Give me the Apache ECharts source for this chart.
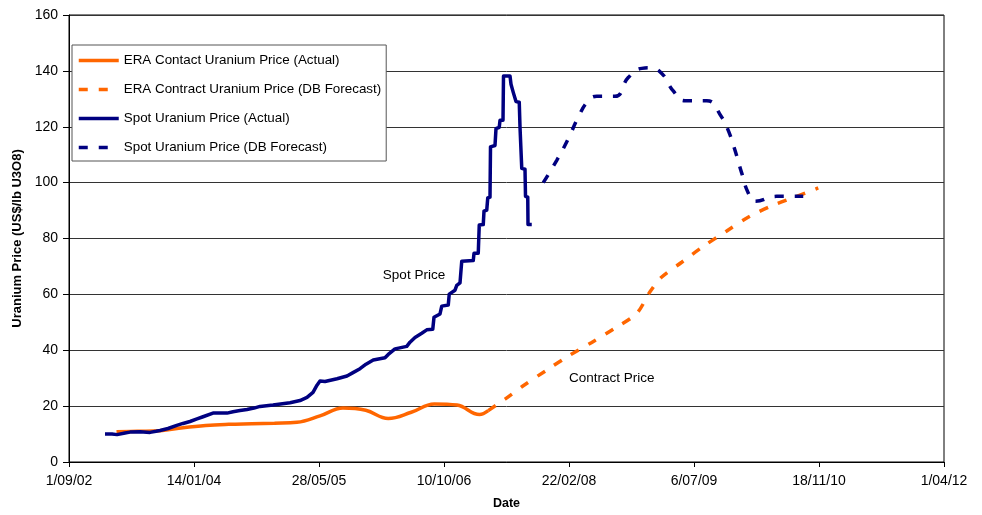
<!DOCTYPE html>
<html>
<head>
<meta charset="utf-8">
<script src="https://cdn.jsdelivr.net/npm/echarts@6/dist/echarts.min.js"></script>
<style>
  html, body { margin: 0; padding: 0; background: #ffffff; }
  #chart { width: 982px; height: 515px; }
</style>
</head>
<body>
<div id="chart"></div>
<script>
// Date axis runs from 1 Sep 2002 in 500-day steps
const axisStartDate = '2002-09-01';
const axisEndDate = '2012-04-01';
const tickLabels = ['1/09/02', '14/01/04', '28/05/05', '10/10/06', '22/02/08', '6/07/09', '18/11/10', '1/04/12'];
const yTicks = [0, 20, 40, 60, 80, 100, 120, 140, 160];

// ERA contract price, actual (US$/lb U3O8)
const contractActualDates = ['2003-03-10', '2003-06-01', '2003-09-01', '2003-12-01', '2004-03-01', '2004-06-01',
  '2004-09-01', '2004-12-01', '2005-03-01', '2005-06-01', '2005-09-01', '2005-12-01', '2006-03-01', '2006-06-01',
  '2006-09-01', '2006-12-01', '2007-03-01', '2007-04-05'];
const contractActualValues = [10.8, 11.0, 11.2, 12.3, 13.1, 13.5, 13.7, 13.9, 14.2, 16.5, 19.3, 18.5, 15.6, 17.8,
  20.8, 20.4, 17.0, 18.4];

// ERA contract price, DB forecast
const contractForecastDates = ['2007-04-05', '2007-06-11', '2007-08-23', '2007-11-25', '2008-02-19', '2008-05-23',
  '2008-08-24', '2008-11-19', '2009-01-11', '2009-02-27', '2009-05-18', '2009-08-06', '2009-11-14', '2010-02-15',
  '2010-05-19', '2010-08-21', '2010-11-15'];
const contractForecastValues = [18.4, 22.5, 27.3, 32.9, 37.9, 42.8, 47.9, 53.2, 60.9, 66.2, 71.5, 76.8, 82.7, 88.0,
  91.9, 95.1, 98.1];

// Spot price, actual
const spotActualDates = ['2003-01-23', '2003-02-20', '2003-03-12', '2003-04-13', '2003-05-03', '2003-06-12',
  '2003-07-22', '2003-08-15', '2003-08-31', '2003-10-02', '2003-11-06', '2003-12-01', '2003-12-29', '2004-01-26',
  '2004-02-19', '2004-03-30', '2004-05-25', '2004-06-18', '2004-07-16', '2004-08-13', '2004-09-10', '2004-10-04',
  '2004-11-25', '2005-02-01', '2005-03-13', '2005-04-10', '2005-05-04', '2005-05-20', '2005-06-01', '2005-06-21',
  '2005-08-08', '2005-09-17', '2005-10-11', '2005-11-08', '2005-12-02', '2005-12-31', '2006-02-16', '2006-03-01',
  '2006-03-28', '2006-05-14', '2006-05-27', '2006-06-16', '2006-07-13', '2006-08-02', '2006-08-26', '2006-08-31',
  '2006-09-24', '2006-10-01', '2006-10-27', '2006-10-31', '2006-11-23', '2006-11-30', '2006-12-13', '2006-12-20',
  '2007-02-04', '2007-02-07', '2007-02-24', '2007-02-28', '2007-03-16', '2007-03-19', '2007-03-30', '2007-04-03',
  '2007-04-12', '2007-04-14', '2007-05-02', '2007-05-06', '2007-05-19', '2007-05-22', '2007-06-03', '2007-06-05',
  '2007-07-01', '2007-07-05', '2007-07-12', '2007-07-14', '2007-07-21', '2007-07-25', '2007-08-07', '2007-08-10',
  '2007-08-14', '2007-08-17', '2007-08-30', '2007-09-01', '2007-09-10', '2007-09-11', '2007-09-26'];
const spotActualValues = [10.0, 10.0, 9.8, 10.4, 10.7, 10.8,
  10.6, 11.0, 11.3, 12.0, 13.1, 13.8, 14.5, 15.4,
  16.2, 17.5, 17.5, 18.0, 18.4, 18.8, 19.3, 19.9,
  20.4, 21.2, 22.0, 23.1, 24.9, 27.5, 29.0, 28.8,
  29.8, 30.8, 32.0, 33.4, 35.0, 36.5, 37.3, 38.5,
  40.5, 41.4, 42.9, 44.6, 46.1, 47.3, 47.5, 51.8,
  53.0, 55.8, 56.2, 60.1, 61.5, 63.2, 64.1, 71.9,
  72.1, 74.7, 74.7, 84.8, 85.0, 89.8, 90.2, 94.5,
  94.8, 112.8, 113.3, 119.3, 119.8, 122.3, 122.3, 138.2,
  138.2, 135.2, 134.6, 132.3, 132.3, 129.0, 128.8, 119.9,
  119.3, 105.1, 104.8, 95.1, 94.8, 85.0, 85.0];

// Spot price, DB forecast
const spotForecastDates = ['2007-11-11', '2008-01-04', '2008-02-19', '2008-03-30', '2008-05-09', '2008-06-12',
  '2008-08-24', '2008-10-16', '2008-12-09', '2009-01-11', '2009-02-27', '2009-04-14', '2009-05-31', '2009-08-26',
  '2009-10-25', '2009-11-20', '2009-12-17', '2010-01-13', '2010-02-08', '2010-03-07', '2010-06-02', '2010-09-16'];
const spotForecastValues = [100.0, 108.0, 115.7, 123.4, 129.3, 130.9,
  130.9, 137.6, 140.9, 141.1, 139.1, 132.8, 129.3, 129.3,
  123.4, 118.7, 111.6, 103.4, 96.3, 93.3, 95.1, 95.1];

// Text annotations placed in data coordinates
const spotNote = { text: 'Spot Price', date: '2006-06-12', value: 67.0 };
const contractNote = { text: 'Contract Price', date: '2008-08-11', value: 30.0 };

const ORANGE = '#ff6600';
const NAVY = '#000080';
const FONT = "'Liberation Sans', Arial, sans-serif";

function parseUTC(s) {
  const p = s.split('-').map(Number);
  return Date.UTC(p[0], p[1] - 1, p[2]);
}
const originMs = parseUTC(axisStartDate);
function dayOf(s) { return Math.round((parseUTC(s) - originMs) / 86400000); }
function pairs(dates, values) { return dates.map((d, i) => [dayOf(d), values[i]]); }

const TICK_STEP = 500;
const chart = echarts.init(document.getElementById('chart'), null, { renderer: 'canvas' });

const option = {
  animation: false,
  backgroundColor: '#ffffff',
  textStyle: { fontFamily: FONT },
  grid: {
    left: 69, right: 38, top: 15, bottom: 48,
    show: true, borderColor: '#000', borderWidth: 1, backgroundColor: 'transparent'
  },
  legend: {
    orient: 'vertical',
    left: 72, top: 45,
    padding: [9, 5, 7, 5],
    itemWidth: 40, itemHeight: 14, itemGap: 16,
    backgroundColor: '#ffffff',
    borderColor: '#555', borderWidth: 1,
    itemStyle: { opacity: 0 },
    lineStyle: { width: 3.5 },
    textStyle: { fontFamily: FONT, fontSize: 13.4, color: '#000' },
    data: [
      'ERA Contact Uranium Price (Actual)',
      'ERA Contract Uranium Price (DB Forecast)',
      'Spot Uranium Price (Actual)',
      'Spot Uranium Price (DB Forecast)'
    ]
  },
  xAxis: {
    type: 'value',
    min: 0,
    max: dayOf(axisEndDate),
    interval: TICK_STEP,
    name: 'Date',
    nameLocation: 'middle',
    nameGap: 35,
    nameTextStyle: { fontFamily: FONT, fontSize: 12.5, fontWeight: 'bold', color: '#000' },
    axisLine: { lineStyle: { color: '#000', width: 1 } },
    axisTick: { show: true, inside: false, length: 5, lineStyle: { color: '#000' } },
    axisLabel: {
      fontFamily: FONT, fontSize: 14, color: '#000', margin: 12,
      formatter: v => tickLabels[Math.round(v / TICK_STEP)] || ''
    },
    splitLine: { show: false }
  },
  yAxis: {
    type: 'value',
    min: yTicks[0],
    max: yTicks[yTicks.length - 1],
    interval: yTicks[1] - yTicks[0],
    name: 'Uranium Price (US$/lb U3O8)',
    nameLocation: 'middle',
    nameGap: 42,
    nameRotate: 90,
    nameTextStyle: { fontFamily: FONT, fontSize: 13, fontWeight: 'bold', color: '#000' },
    axisLine: { show: true, lineStyle: { color: '#000', width: 1 } },
    axisTick: { show: true, inside: false, length: 6, lineStyle: { color: '#000' } },
    axisLabel: { fontFamily: FONT, fontSize: 14, color: '#000', margin: 11 },
    splitLine: { show: true, lineStyle: { color: '#333', width: 1 } }
  },
  series: [
    {
      name: 'ERA Contact Uranium Price (Actual)',
      type: 'line',
      data: pairs(contractActualDates, contractActualValues),
      smooth: 0.4,
      showSymbol: false, symbol: 'none',
      lineStyle: { color: ORANGE, width: 3.5 },
      itemStyle: { color: ORANGE },
      z: 2
    },
    {
      name: 'ERA Contract Uranium Price (DB Forecast)',
      type: 'line',
      data: pairs(contractForecastDates, contractForecastValues),
      smooth: 0.3,
      showSymbol: false, symbol: 'none',
      lineStyle: { color: ORANGE, width: 3.5, type: [9, 11] },
      itemStyle: { color: ORANGE },
      markPoint: {
        symbol: 'circle', symbolSize: 0,
        label: { show: true, position: 'inside', formatter: contractNote.text,
          fontFamily: FONT, fontSize: 13.5, color: '#000' },
        data: [{ coord: [dayOf(contractNote.date), contractNote.value] }]
      },
      z: 2
    },
    {
      name: 'Spot Uranium Price (Actual)',
      type: 'line',
      data: pairs(spotActualDates, spotActualValues),
      smooth: false,
      showSymbol: false, symbol: 'none',
      lineStyle: { color: NAVY, width: 3.5, join: 'round' },
      itemStyle: { color: NAVY },
      markPoint: {
        symbol: 'circle', symbolSize: 0,
        label: { show: true, position: 'inside', formatter: spotNote.text,
          fontFamily: FONT, fontSize: 13.5, color: '#000' },
        data: [{ coord: [dayOf(spotNote.date), spotNote.value] }]
      },
      z: 3
    },
    {
      name: 'Spot Uranium Price (DB Forecast)',
      type: 'line',
      data: pairs(spotForecastDates, spotForecastValues),
      smooth: 0.5,
      showSymbol: false, symbol: 'none',
      lineStyle: { color: NAVY, width: 3.5, type: [9, 11] },
      itemStyle: { color: NAVY },
      z: 3
    }
  ]
};

chart.setOption(option);
</script>
</body>
</html>
